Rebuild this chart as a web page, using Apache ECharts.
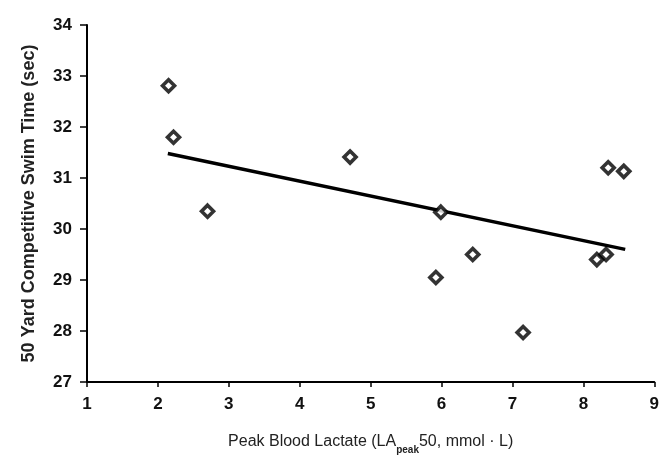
<!DOCTYPE html>
<html>
<head>
<meta charset="utf-8">
<title>Peak Blood Lactate vs 50 Yard Swim Time</title>
<script src="https://cdn.jsdelivr.net/npm/echarts@6/dist/echarts.min.js"></script>
<style>
  html, body { margin: 0; padding: 0; background: #ffffff; }
  #chart { width: 662px; height: 463px; }
</style>
</head>
<body>
<div id="chart"></div>
<script>
// Peak blood lactate (mmol/L) for each swimmer
const lactate = [2.15, 2.22, 2.70, 4.71, 5.99, 5.92, 6.44, 7.15, 8.19, 8.32, 8.35, 8.57];
// 50 yard competitive swim time (sec) for each swimmer
const swimTime = [32.81, 31.80, 30.35, 31.41, 30.33, 29.05, 29.50, 27.97, 29.40, 29.50, 31.20, 31.13];
// Regression line end points
const fitLactate = [2.14, 8.59];
const fitTime = [31.48, 29.60];
// Axis ticks
const xTicks = [1, 2, 3, 4, 5, 6, 7, 8, 9];
const yTicks = [27, 28, 29, 30, 31, 32, 33, 34];

const points = lactate.map((x, i) => [x, swimTime[i]]);
const fitLine = fitLactate.map((x, i) => [x, fitTime[i]]);

const chart = echarts.init(document.getElementById('chart'), null, { renderer: 'canvas' });

const FONT = 'Liberation Sans, Arial, sans-serif';

chart.setOption({
  animation: false,
  backgroundColor: '#ffffff',
  grid: { left: 87, right: 3, top: 25, bottom: 81, containLabel: false },
  xAxis: {
    type: 'value',
    min: xTicks[0],
    max: xTicks[xTicks.length - 1],
    interval: 1,
    name: '{t|Peak Blood Lactate (LA}{s|peak}{t|50, mmol · L)}',
    nameLocation: 'middle',
    nameGap: 49,
    nameTextStyle: {
      rich: {
        t: { fontSize: 16, color: '#222', fontFamily: FONT, verticalAlign: 'bottom', lineHeight: 19 },
        s: { fontSize: 10, color: '#222', fontFamily: FONT, fontWeight: 'bold', verticalAlign: 'bottom', lineHeight: 12, padding: [0, 0, -5, 0] }
      }
    },
    axisLine: { show: true, onZero: false, lineStyle: { color: '#000', width: 2 } },
    axisTick: { show: true, inside: false, length: 5, lineStyle: { color: '#000', width: 1.5 } },
    axisLabel: { fontSize: 17, fontWeight: 'bold', margin: 14, color: '#111', fontFamily: FONT },
    splitLine: { show: false }
  },
  yAxis: {
    type: 'value',
    min: yTicks[0],
    max: yTicks[yTicks.length - 1],
    interval: 1,
    name: '50 Yard Competitive Swim Time (sec)',
    nameLocation: 'middle',
    nameGap: 49,
    nameRotate: 90,
    nameTextStyle: { fontSize: 18, fontWeight: 'bold', color: '#222', fontFamily: FONT },
    axisLine: { show: true, onZero: false, lineStyle: { color: '#000', width: 2 } },
    axisTick: { show: true, inside: false, length: 7, lineStyle: { color: '#000', width: 1.5 } },
    axisLabel: { fontSize: 17, fontWeight: 'bold', margin: 15, color: '#111', fontFamily: FONT },
    splitLine: { show: false }
  },
  series: [
    {
      type: 'line',
      data: fitLine,
      symbol: 'none',
      lineStyle: { color: '#000', width: 3.5 },
      z: 2
    },
    {
      type: 'scatter',
      data: points,
      symbol: 'diamond',
      symbolSize: 12,
      itemStyle: { color: '#ffffff', borderColor: '#000', borderWidth: 3.6 },
      z: 3
    }
  ]
});
</script>
</body>
</html>
